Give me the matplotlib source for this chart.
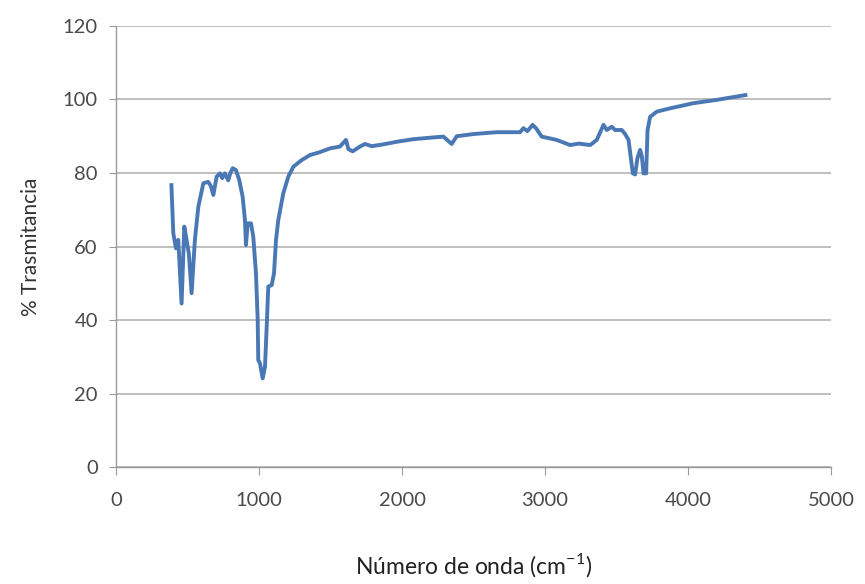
import matplotlib.pyplot as plt

# IR spectrum
wavenumber = [388, 401, 420, 436, 459, 478, 494, 510, 529, 552, 576, 611, 645, 663, 681,
              704, 727, 743, 762, 785, 800, 816, 839, 862, 886, 902, 909, 921, 944, 960,
              979, 991, 995, 1007, 1026, 1042, 1054, 1065, 1089, 1105, 1119, 1135, 1170,
              1205, 1240, 1298, 1357, 1420, 1497, 1566, 1608, 1625, 1655, 1706, 1741, 1788,
              1870, 1963, 2079, 2196, 2289, 2347, 2382, 2499, 2662, 2825, 2848, 2876, 2913,
              2940, 2976, 3081, 3175, 3235, 3315, 3361, 3408, 3431, 3466, 3489, 3536, 3559,
              3583, 3613, 3629, 3645, 3664, 3676, 3688, 3706, 3716, 3734, 3781, 3874, 4037,
              4200, 4400]
transmittance = [76.7, 63.6, 59.5, 61.8, 44.5, 65.4, 61.8, 58.0, 47.3, 61.8, 70.8, 77.2, 77.6,
                 76.5, 74.0, 79.0, 79.9, 78.6, 79.9, 78.0, 80.0, 81.3, 80.8, 78.1, 73.5, 67.2,
                 60.4, 66.3, 66.3, 62.7, 52.7, 40.0, 29.1, 28.2, 24.1, 27.3, 38.2, 49.1, 49.5,
                 52.7, 61.8, 67.2, 74.5, 79.0, 81.7, 83.5, 84.9, 85.6, 86.7, 87.2, 89.0, 86.5,
                 85.9, 87.2, 87.9, 87.3, 87.8, 88.5, 89.2, 89.6, 89.9, 87.9, 90.0, 90.6, 91.1,
                 91.1, 92.2, 91.4, 93.1, 92.0, 89.9, 89.0, 87.6, 88.0, 87.6, 89.0, 93.1, 91.7,
                 92.6, 91.7, 91.7, 90.6, 89.0, 79.9, 79.6, 84.0, 86.3, 84.5, 79.9, 79.9, 91.7,
                 95.3, 96.7, 97.6, 99.0, 99.9, 101.2]

plt.rcParams['font.family'] = ['Lato', 'DejaVu Sans']

fig = plt.figure(figsize=(8.65, 5.84), dpi=100)
ax = fig.add_axes([0.134, 0.2003, 0.827, 0.7552])

ax.plot(wavenumber, transmittance, color='#4a78b5', linewidth=2.8, solid_joinstyle='round')

ax.set_xlim(0, 5000)
ax.set_ylim(0, 120)
ax.set_xticks(range(0, 5001, 1000))
ax.set_yticks(range(0, 121, 20))
ax.grid(axis='y', color='#b4b4b4', linewidth=1.2)
ax.set_axisbelow(True)

for side in ['top', 'right']:
    ax.spines[side].set_visible(False)
for side in ['left', 'bottom']:
    ax.spines[side].set_color('#9a9a9a')
    ax.spines[side].set_linewidth(1.0)

ax.tick_params(axis='x', direction='out', length=6, color='#9a9a9a', labelsize=14.5,
               labelcolor='#4a4a4a', pad=12)
ax.tick_params(axis='y', direction='out', length=5, color='#9a9a9a', labelsize=14.5,
               labelcolor='#4a4a4a', pad=8)

ax.set_ylabel('% Trasmitancia', fontsize=15, color='#333333', labelpad=16)
ax.set_xlabel('Número de onda (cm$^{\\mathregular{-1}}$)', fontsize=16.5, color='#222222',
              labelpad=30)

fig.savefig('out.png', dpi=100)
